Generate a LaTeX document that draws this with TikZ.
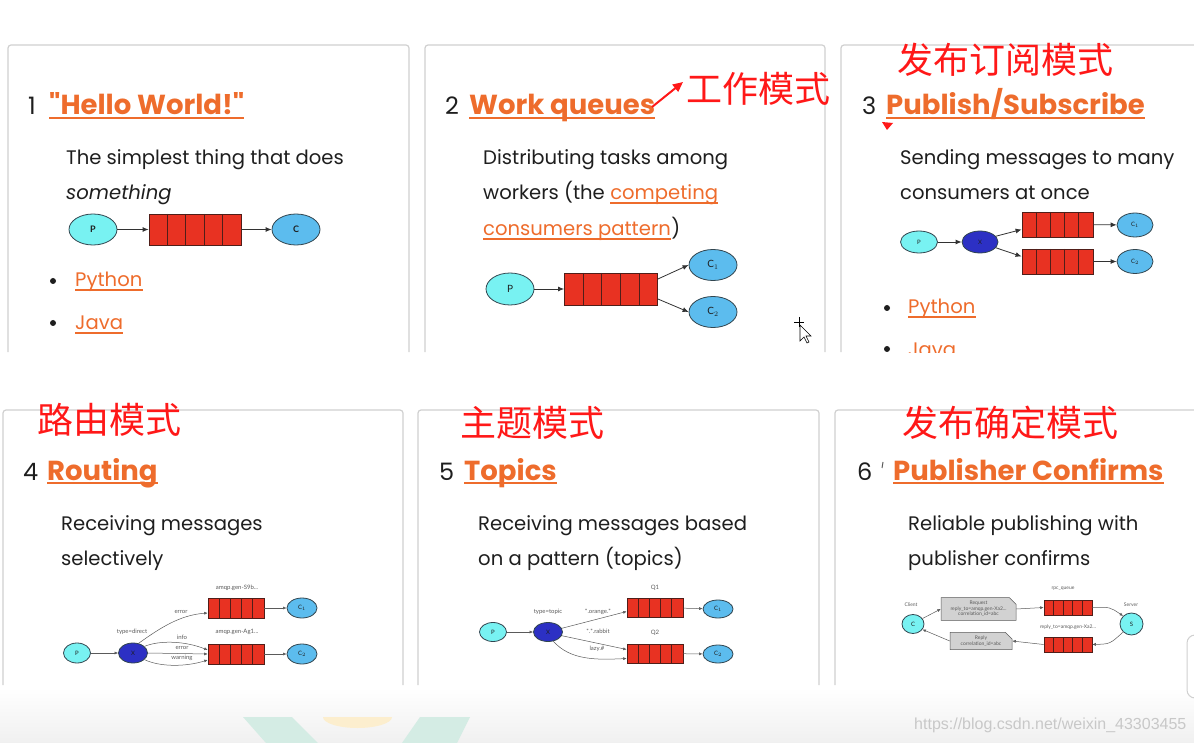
\documentclass[tikz,border=0pt]{standalone}
\usepackage{fontspec}
\setmainfont{Poppins}[Ligatures=TeXOff]
\newfontfamily\cjkfont{Noto Sans CJK SC}
\newfontfamily\wmfont{Liberation Sans}
\newfontfamily\smallfont{Lato}
\usetikzlibrary{arrows.meta,shapes.geometric,shapes.misc,calc}
\definecolor{lorange}{RGB}{238,108,44}
\definecolor{txt}{RGB}{30,30,30}
\definecolor{cnred}{RGB}{255,24,24}
\definecolor{cardgray}{RGB}{208,208,208}
\definecolor{pcyan}{RGB}{120,242,242}
\definecolor{cblue}{RGB}{92,188,238}
\definecolor{xblue}{RGB}{44,48,196}
\definecolor{qred}{RGB}{232,50,34}
\definecolor{qedge}{RGB}{80,30,25}
\definecolor{edgec}{RGB}{50,70,80}
\definecolor{arrc}{RGB}{50,50,50}
\definecolor{tgray}{RGB}{90,90,90}
\definecolor{boxgray}{RGB}{210,210,210}
\definecolor{wmgray}{RGB}{200,200,200}
\definecolor{bandgray}{RGB}{240,240,240}
\definecolor{pgreen}{RGB}{212,236,228}
\definecolor{pyellow}{RGB}{252,238,206}
\newcommand\linkline[1]{\draw[lorange,line width=1.2pt] ([yshift=-3pt]#1.base west) -- ([yshift=-3pt]#1.base east);}
\newcommand\titleline[1]{\draw[lorange,line width=1.8pt] ([yshift=-3pt]#1.base west) -- ([yshift=-3pt]#1.base east);}
\begin{document}
\begin{tikzpicture}[x=1pt,y=-1pt,
 card/.style={draw=cardgray,line width=1.2pt,rounded corners=3pt},
 num/.style={anchor=base west,inner sep=0,text=txt,font=\fontsize{24}{28}\selectfont},
 ttl/.style={anchor=base west,inner sep=0,text=lorange,font=\bfseries\fontsize{27.5}{30}\selectfont},
 body/.style={anchor=base west,inner sep=0,text=txt,font=\fontsize{19.6}{24}\selectfont},
 lnk/.style={anchor=base west,inner sep=0,text=lorange,font=\fontsize{19.6}{24}\selectfont},
 cn/.style={anchor=west,inner sep=0,text=cnred,font=\cjkfont\fontsize{36}{40}\selectfont},
 ell/.style={ellipse,draw=edgec,line width=0.8pt,inner sep=0,text=txt},
 prod/.style={ell,fill=pcyan},
 cons/.style={ell,fill=cblue},
 exch/.style={ell,fill=xblue},
 queue/.style={draw=qedge,fill=qred,inner sep=0,line width=0.8pt,
   path picture={\foreach \i in {1,2,3,4}{\draw[qedge,line width=0.8pt]
     ($(path picture bounding box.north west)!\i/5!(path picture bounding box.north east)$) --
     ($(path picture bounding box.south west)!\i/5!(path picture bounding box.south east)$);}}},
 arr/.style={draw=arrc,line width=0.8pt,-{Latex[length=6pt,width=5pt]}},
 arrs/.style={draw=tgray,line width=0.5pt,-{Latex[length=3.5pt,width=3pt]}},
 tinyl/.style={inner sep=0,text=tgray,font=\smallfont\fontsize{6}{7}\selectfont},
 elab/.style={font=\smallfont\bfseries\fontsize{9}{10}\selectfont},
 elabs/.style={font=\smallfont\fontsize{6}{7}\selectfont},
 notebox/.style={chamfered rectangle,chamfered rectangle corners=north east,chamfered rectangle xsep=3pt,draw=tgray,fill=boxgray,line width=0.5pt,inner sep=0,align=center,text=tgray,font=\smallfont\fontsize{5}{5.5}\selectfont},
 bul/.style={circle,fill=txt,inner sep=0,minimum size=6pt},
]
\useasboundingbox (0,0) rectangle (1194,743);
% background band and faint shapes
\shade[top color=white,bottom color=bandgray] (0,688) rectangle (1194,743);
\fill[pgreen] (243,717) -- (292,717) -- (318,743) -- (266,743) -- cycle;
\fill[pgreen] (420,717) -- (470,717) -- (457,743) -- (402,743) -- cycle;
\begin{scope}
\clip (0,717) rectangle (1194,743);
\fill[pyellow] (357.5,717) ellipse[x radius=34.5,y radius=11];
\end{scope}
% cards
\draw[card] (8,352) -- (8,45) -- (409,45) -- (409,352);
\draw[card] (425,352) -- (425,45) -- (825,45) -- (825,352);
\draw[card] (841,352) -- (841,45) -- (1200,45);
\draw[card] (3,685) -- (3,410) -- (403,410) -- (403,685);
\draw[card] (418,685) -- (418,410) -- (819,410) -- (819,685);
\draw[card] (835,685) -- (835,410) -- (1200,410);
\draw[draw=cardgray,fill=white,line width=1pt,rounded corners=8pt] (1187,635) rectangle (1230,698);

% ---------- panel 1
\node[num] (n1) at (28,115) {1};
\node[ttl] (t1) at (49,115) {"Hello World!"};
\titleline{t1}
\node[body] (d1a) at (66,165) {The simplest thing that does};
\node[body,font=\itshape\fontsize{19.6}{24}\selectfont] (d1b) at (66,200) {something};
\node[prod,minimum width=48pt,minimum height=31pt,elab] (p1) at (93,229.5) {P};
\node[queue,minimum width=92pt,minimum height=31pt] (q1) at (195,229.5) {};
\node[cons,minimum width=48pt,minimum height=31pt,elab] (c1) at (296,229.5) {C};
\draw[arr] (p1) -- (q1);
\draw[arr] (q1) -- (c1);
\node[bul] (b11) at (53,281) {};
\node[lnk] (py1) at (75,287) {Python};
\linkline{py1}
\node[bul] (b12) at (53,323) {};
\node[lnk] (ja1) at (75,330) {Java};
\linkline{ja1}

% ---------- panel 2
\node[num] (n2) at (445,115) {2};
\node[ttl] (t2) at (469,115) {Work queues};
\titleline{t2}
\coordinate (a2s) at (652,107);
\coordinate (a2e) at (683,82);
\draw[cnred,line width=2pt,-{Triangle[length=10pt,width=9pt]}] (a2s) -- (a2e);
\node[cn] (cn2) at (686,89) {工作模式};
\node[body] (d2a) at (483,165) {Distributing tasks among};
\node[body] (d2b) at (483,200) {workers (the};
\node[lnk] (l2a) at ([xshift=5pt]d2b.base east) {competing};
\linkline{l2a}
\node[lnk] (l2b) at (483,236) {consumers pattern};
\linkline{l2b}
\node[body] (d2c) at (l2b.base east) {)};
\node[prod,minimum width=48pt,minimum height=32pt,elab,font=\smallfont\fontsize{10}{10}\selectfont] (p2) at (510,289) {P};
\node[queue,minimum width=93pt,minimum height=32pt] (q2) at (611,289) {};
\node[cons,minimum width=48pt,minimum height=31pt,font=\smallfont\fontsize{10}{10}\selectfont] (c21) at (713,265) {C$_1$};
\node[cons,minimum width=48pt,minimum height=31pt,font=\smallfont\fontsize{10}{10}\selectfont] (c22) at (713,312) {C$_2$};
\draw[arr] (p2) -- (q2);
\draw[arr] ([yshift=10pt]q2.east) -- (c21.west);
\draw[arr] ([yshift=-10pt]q2.east) -- (c22.west);
% cursor
\draw[line width=0.6pt] (794,322) -- (804,322) (799,317) -- (799,327);
\filldraw[fill=white,draw=black,line width=0.6pt] (800,325) -- (800,341) -- (804,337) -- (807,343) -- (809,342) -- (806,336) -- (811,336) -- cycle;

% ---------- panel 3
\node[cn] (cn3) at (897,60) {发布订阅模式};
\node[num] (n3) at (862,115) {3};
\node[ttl] (t3) at (886,115) {Publish/Subscribe};
\titleline{t3}
\fill[cnred] (882,122) -- (893,123) -- (887,130) -- cycle;
\node[body] (d3a) at (900,165) {Sending messages to many};
\node[body] (d3b) at (900,200) {consumers at once};
\node[prod,minimum width=37pt,minimum height=22pt,elabs] (p3) at (919,242) {P};
\node[exch,minimum width=36pt,minimum height=22pt,elabs] (x3) at (980,242) {X};
\node[queue,minimum width=71pt,minimum height=25pt] (q31) at (1057.5,224.5) {};
\node[queue,minimum width=71pt,minimum height=25pt] (q32) at (1057.5,261.5) {};
\node[cons,minimum width=36pt,minimum height=24pt,elabs] (c31) at (1135,225) {C$_1$};
\node[cons,minimum width=36pt,minimum height=24pt,elabs] (c32) at (1135,261.5) {C$_2$};
\draw[arr] (p3) -- (x3);
\draw[arr] (x3.20) -- ([yshift=-5pt]q31.west);
\draw[arr] (x3.-20) -- ([yshift=5pt]q32.west);
\draw[arr] (q31) -- (c31);
\draw[arr] (q32) -- (c32);
\begin{scope}
\clip (841,280) rectangle (1194,352);
\node[bul] (b31) at (887,308) {};
\node[lnk] (py3) at (908,314) {Python};
\linkline{py3}
\node[bul] (b32) at (887,349) {};
\node[lnk] (ja3) at (908,356) {Java};
\end{scope}

% ---------- panel 4
\node[cn] (cn4) at (37,420) {路由模式};
\node[num] (n4) at (23,480) {4};
\node[ttl] (t4) at (47,480) {Routing};
\titleline{t4}
\node[body] (d4a) at (61,530) {Receiving messages};
\node[body] (d4b) at (61,565) {selectively};
\node[prod,minimum width=27pt,minimum height=20pt,elabs] (p4) at (77,653) {P};
\node[exch,minimum width=29pt,minimum height=20pt,elabs] (x4) at (133,653) {X};
\node[queue,minimum width=56pt,minimum height=20pt,line width=0.6pt] (q41) at (236,608) {};
\node[queue,minimum width=56pt,minimum height=20pt,line width=0.6pt] (q42) at (236,654) {};
\node[cons,minimum width=30pt,minimum height=20pt,elabs] (c41) at (302,608) {C$_1$};
\node[cons,minimum width=30pt,minimum height=20pt,elabs] (c42) at (302,654) {C$_2$};
\node[tinyl] (l41) at (237,588) {amqp.gen-S9b...};
\node[tinyl] (l42) at (237,632) {amqp.gen-Ag1...};
\node[tinyl] (l43) at (132,632) {type=direct};
\node[tinyl] (l44) at (181,612) {error};
\node[tinyl] (l45) at (182,637) {info};
\node[tinyl] (l46) at (182,647.5) {error};
\node[tinyl] (l47) at (182,658) {warning};
\draw[arrs] (p4) -- (x4);
\draw[arrs] (x4.60) .. controls (160,628) and (180,615) .. ([yshift=-5pt]q41.west);
\draw[arrs] (x4.30) .. controls (160,640) and (185,641) .. ([yshift=4pt]q42.west);
\draw[arrs] (x4.east) -- (q42.west);
\draw[arrs] (x4.-30) .. controls (160,667) and (185,667) .. ([yshift=-6pt]q42.west);
\draw[arrs] (q41) -- (c41);
\draw[arrs] (q42) -- (c42);

% ---------- panel 5
\node[cn] (cn5) at (460,423) {主题模式};
\node[num] (n5) at (439,480) {5};
\node[ttl] (t5) at (464,480) {Topics};
\titleline{t5}
\node[body] (d5a) at (478,530) {Receiving messages based};
\node[body] (d5b) at (478,565) {on a pattern (topics)};
\node[prod,minimum width=27pt,minimum height=19pt,elabs] (p5) at (493,632) {P};
\node[exch,minimum width=29pt,minimum height=19pt,elabs] (x5) at (548,632) {X};
\node[queue,minimum width=56pt,minimum height=19pt,line width=0.6pt] (q51) at (655,607.5) {};
\node[queue,minimum width=56pt,minimum height=19pt,line width=0.6pt] (q52) at (655,653.5) {};
\node[cons,minimum width=30pt,minimum height=18pt,elabs] (c51) at (718,609) {C$_1$};
\node[cons,minimum width=30pt,minimum height=18pt,elabs] (c52) at (718,654) {C$_2$};
\node[tinyl] (l51) at (655,588) {Q1};
\node[tinyl] (l52) at (655,633) {Q2};
\node[tinyl] (l53) at (548,612) {type=topic};
\node[tinyl] (l54) at (598,612) {*.orange.*};
\node[tinyl] (l55) at (598,631) {*.*.rabbit};
\node[tinyl] (l56) at (597,649) {lazy.\#};
\draw[arrs] (p5) -- (x5);
\draw[arrs] (x5.15) -- ([yshift=-4pt]q51.west);
\draw[arrs] (x5.-15) -- ([yshift=4pt]q52.west);
\draw[arrs] (x5.-60) .. controls (570,660) and (595,660) .. ([yshift=-5pt]q52.west);
\draw[arrs] (q51) -- (c51);
\draw[arrs] (q52) -- (c52);

% ---------- panel 6
\node[cn] (cn6) at (902,423) {发布确定模式};
\node[num] (n6) at (857,480) {6};
\draw[tgray,line width=1pt] (883,462) -- (882,468);
\node[ttl] (t6) at (893,480) {Publisher Confirms};
\titleline{t6}
\node[body] (d6a) at (908,530) {Reliable publishing with};
\node[body] (d6b) at (908,565) {publisher confirms};
\node[prod,minimum width=22pt,minimum height=19pt,elabs] (cl6) at (913,624) {C};
\node[prod,minimum width=23pt,minimum height=22pt,elabs] (sv6) at (1131.5,624) {S};
\node[notebox,minimum width=75pt,minimum height=22pt] (rq6) at (978.5,609) {Request\\reply\_to=amqp.gen-Xa2...\\correlation\_id=abc};
\node[notebox,minimum width=62pt,minimum height=16pt] (rp6) at (981,641) {Reply\\correlation\_id=abc};
\node[queue,minimum width=48pt,minimum height=15pt,line width=0.6pt] (qa6) at (1068,607.5) {};
\node[queue,minimum width=48pt,minimum height=15pt,line width=0.6pt] (qb6) at (1068,644.5) {};
\node[tinyl,font=\smallfont\fontsize{5}{6}\selectfont] (l61) at (911,605) {Client};
\node[tinyl,font=\smallfont\fontsize{5}{6}\selectfont] (l62) at (1131,605) {Server};
\node[tinyl,font=\smallfont\fontsize{5}{6}\selectfont] (l63) at (1063,589) {rpc\_queue};
\node[tinyl,font=\smallfont\fontsize{5}{6}\selectfont] (l64) at (1068,627) {reply\_to=amqp.gen-Xa2...};
\draw[arrs] (cl6.30) -- (rq6.west);
\draw[arrs] (rq6.east) -- (qa6.west);
\draw[arrs] (qa6.east) .. controls (1110,607) .. (sv6.north west);
\draw[arrs] (sv6.south west) .. controls (1110,644) .. (qb6.east);
\draw[arrs] (qb6.west) -- (rp6.east);
\draw[arrs] (rp6.west) -- (cl6.-30);

% watermark
\node[anchor=base west,inner sep=0,text=wmgray,font=\wmfont\fontsize{16}{18}\selectfont] (wm) at (914,729) {https://blog.csdn.net/weixin\_43303455};
\end{tikzpicture}
\end{document}
